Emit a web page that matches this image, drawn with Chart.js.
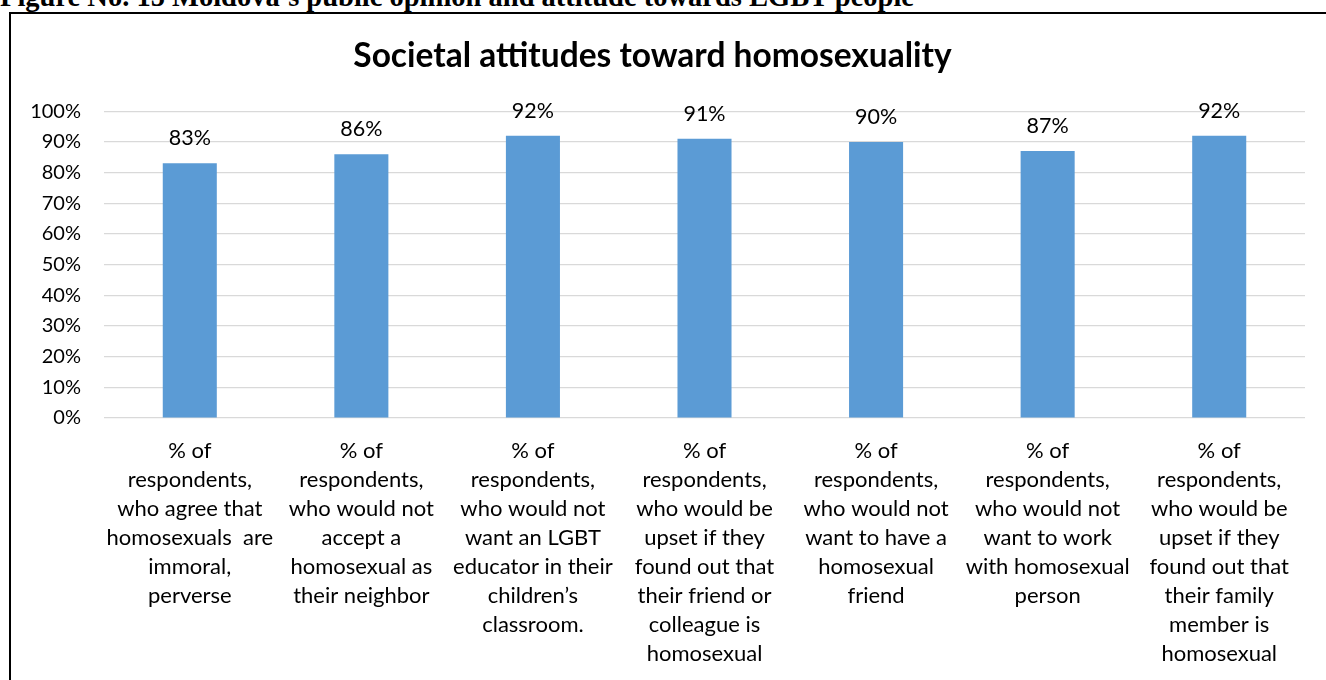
<!DOCTYPE html>
<html lang="en">
<head>
    <meta charset="UTF-8">
    <title>Societal attitudes toward homosexuality</title>
    <script src="https://cdn.jsdelivr.net/npm/chart.js"></script>
    <style>
        body {
            margin: 0;
            background-color: #fff;
            width: 1326px;
            height: 680px;
            overflow: hidden;
            position: relative;
        }
        .fig-heading {
            position: absolute;
            left: 0;
            top: -17px;
            font-family: "Liberation Serif", "Times New Roman", serif;
            font-weight: bold;
            font-size: 28.5px;
            line-height: 28.5px;
            white-space: nowrap;
            color: #000;
        }
        .frame {
            position: absolute;
            left: 9px;
            top: 12px;
            width: 1400px;
            height: 720px;
            border: 2px solid #000;
            box-sizing: border-box;
        }
        .chart-box {
            position: absolute;
            left: 0;
            top: 0;
            width: 1326px;
            height: 680px;
        }
    </style>
</head>
<body>
    <div class="fig-heading">Figure No. 15 Moldova’s public opinion and attitude towards LGBT people</div>
    <div class="frame"></div>
    <div class="chart-box">
        <canvas id="attChart"></canvas>
    </div>

    <script>
        const chartTitle = 'Societal attitudes toward homosexuality';

        const categories = [
            ['% of', 'respondents,', 'who agree that', 'homosexuals  are', 'immoral,', 'perverse'],
            ['% of', 'respondents,', 'who would not', 'accept a', 'homosexual as', 'their neighbor'],
            ['% of', 'respondents,', 'who would not', 'want an LGBT', 'educator in their', 'children’s', 'classroom.'],
            ['% of', 'respondents,', 'who would be', 'upset if they', 'found out that', 'their friend or', 'colleague is', 'homosexual'],
            ['% of', 'respondents,', 'who would not', 'want to have a', 'homosexual', 'friend'],
            ['% of', 'respondents,', 'who would not', 'want to work', 'with homosexual', 'person'],
            ['% of', 'respondents,', 'who would be', 'upset if they', 'found out that', 'their family', 'member is', 'homosexual']
        ];

        const shares = [83, 86, 92, 91, 90, 87, 92];

        const yTicks = [0, 10, 20, 30, 40, 50, 60, 70, 80, 90, 100];

        // value labels above each bar
        const barLabels = {
            id: 'barLabels',
            afterDatasetsDraw(chart) {
                const ctx = chart.ctx;
                const meta = chart.getDatasetMeta(0);
                ctx.save();
                ctx.font = '21.5px Lato, sans-serif';
                ctx.fillStyle = '#000';
                ctx.textAlign = 'center';
                ctx.textBaseline = 'middle';
                meta.data.forEach((bar, i) => {
                    ctx.fillText(shares[i] + '%', bar.x, bar.y - 25);
                });
                ctx.restore();
            }
        };

        const ctx = document.getElementById('attChart').getContext('2d');
        new Chart(ctx, {
            type: 'bar',
            data: {
                labels: categories,
                datasets: [{
                    data: shares,
                    backgroundColor: '#5b9bd5',
                    borderWidth: 0,
                    barPercentage: 0.315,
                    categoryPercentage: 1
                }]
            },
            options: {
                responsive: true,
                maintainAspectRatio: false,
                animation: false,
                layout: {
                    padding: { left: 0, right: 21, top: 0, bottom: 0 }
                },
                plugins: {
                    legend: { display: false },
                    tooltip: { enabled: false },
                    title: {
                        display: true,
                        text: chartTitle,
                        color: '#000',
                        font: { family: 'Lato, sans-serif', size: 33.5, weight: 'bold', lineHeight: 1.2 },
                        padding: { top: 36, bottom: 35 }
                    }
                },
                scales: {
                    x: {
                        grid: { display: false },
                        border: { display: false },
                        ticks: {
                            color: '#000',
                            autoSkip: false,
                            maxRotation: 0,
                            minRotation: 0,
                            padding: 10,
                            font: { family: 'Lato, sans-serif', size: 22, lineHeight: 29 / 22 }
                        },
                        afterFit(scale) {
                            scale.height = 262;
                        }
                    },
                    y: {
                        min: 0,
                        max: 100,
                        afterBuildTicks(scale) {
                            scale.ticks = yTicks.map(v => ({ value: v }));
                        },
                        grid: {
                            color: '#d9d9d9',
                            lineWidth: 1.2,
                            drawTicks: false
                        },
                        border: { display: false },
                        ticks: {
                            color: '#000',
                            padding: 23,
                            font: { family: 'Lato, sans-serif', size: 20 },
                            callback: v => v + '%'
                        },
                        afterFit(scale) {
                            scale.width = 104;
                        }
                    }
                }
            },
            plugins: [barLabels]
        });
    </script>
</body>
</html>
